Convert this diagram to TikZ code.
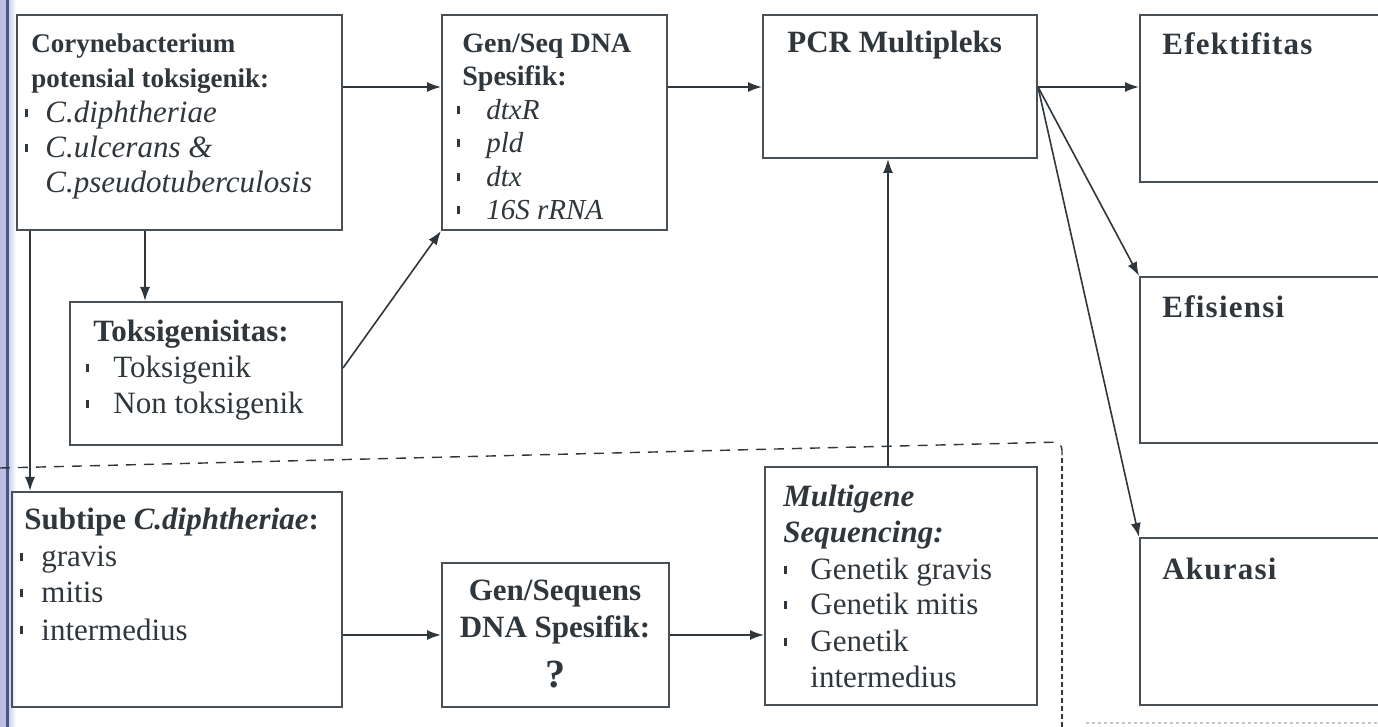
\documentclass[tikz,border=0pt]{standalone}
\usepackage{fontspec}
\setmainfont{Liberation Serif}
\usetikzlibrary{arrows.meta,fit,calc}
\definecolor{ink}{HTML}{30373C}
\definecolor{frame}{HTML}{4A5156}
\definecolor{edgeA}{HTML}{B9BEE2}
\definecolor{edgeB}{HTML}{4C5380}
\definecolor{edgeC}{HTML}{C6D4F0}
% small upright bar used as list bullet, followed by the indent to the item text
\newcommand\bul[1]{\makebox[#1][l]{\rule[3pt]{1.5pt}{3.8pt}}}
\begin{document}
\begin{tikzpicture}[x=0.5pt,y=-0.5pt,
  box/.style={draw=frame,line width=1pt,inner sep=0pt},
  arr/.style={draw=ink,line width=0.8pt,-{Latex[length=7pt,width=5pt]}},
  txt/.style={anchor=base west,inner sep=0pt,text=ink,font=\fontsize{15.5}{18}\selectfont},
  hd/.style={txt,font=\fontsize{15.5}{18}\selectfont\bfseries},
  hdsmall/.style={txt,font=\fontsize{13.5}{16}\selectfont\bfseries},
  hdmid/.style={txt,font=\fontsize{14}{16}\selectfont\bfseries},
  itmid/.style={txt,font=\fontsize{14.5}{16}\selectfont\itshape},
  ctr/.style={hd,anchor=base},
  wide/.style={hd,font=\fontsize{15.5}{18}\selectfont\bfseries\addfontfeature{LetterSpace=4}},
  dsh/.style={draw=ink,line width=0.7pt,dash pattern=on 5pt off 4pt},
  dotl/.style={draw=ink,line width=1.3pt,dash pattern=on 2.5pt off 1.5pt}]
\useasboundingbox (0,0) rectangle (1378,727);
\fill[white] (0,0) rectangle (1378,727);

% binding shadow along the left margin
\fill[edgeA] (0,0) rectangle (6,727);
\fill[edgeB] (6,0) rectangle (9,727);
\shade[left color=edgeC,right color=white] (9,0) rectangle (16,727);

% boxes
\node[box,fit={(17,15)(342,230)}] (coryne) {};
\node[box,fit={(442,15)(667,230)}] (genseq) {};
\node[box,fit={(763,15)(1037,158)}] (pcr) {};
\node[box,fit={(1140,15)(1392,182)}] (efek) {};
\node[box,fit={(1140,277)(1392,443)}] (efis) {};
\node[box,fit={(1140,538)(1392,705)}] (akur) {};
\node[box,fit={(70,302)(342,445)}] (toks) {};
\node[box,fit={(12,492)(342,707)}] (subtipe) {};
\node[box,fit={(442,563)(669,707)}] (genseqb) {};
\node[box,fit={(765,467)(1037,705)}] (multi) {};

% box texts
\node[hdsmall] (a1) at (31,53) {Corynebacterium};
\node[hdsmall] (a2) at (31,88) {potensial toksigenik:};
\node[txt] (a3) at (25,123) {\bul{10pt}\textit{C.diphtheriae}};
\node[txt] (a4) at (25,158) {\bul{10pt}\textit{C.ulcerans \&}};
\node[txt] (a5) at (45,193) {\textit{C.pseudotuberculosis}};

\node[hdmid] (b1) at (462,53) {Gen/Seq DNA};
\node[hdmid] (b2) at (462,86) {Spesifik:};
\node[itmid] (b3) at (457,120) {\bul{14.5pt}dtxR};
\node[itmid] (b4) at (457,153) {\bul{14.5pt}pld};
\node[itmid] (b5) at (457,187) {\bul{14.5pt}dtx};
\node[itmid] (b6) at (457,220) {\bul{14.5pt}16S rRNA};

\node[hd] (p1) at (787,53) {PCR Multipleks};

\node[wide] (e1) at (1162,55) {Efektifitas};
\node[wide] (e2) at (1162,318) {Efisiensi};
\node[wide] (e3) at (1162,580) {Akurasi};

\node[hd] (t1) at (93,342) {Toksigenisitas:};
\node[txt] (t2) at (86,378) {\bul{13.5pt}Toksigenik};
\node[txt] (t3) at (86,414) {\bul{13.5pt}Non toksigenik};

\node[hd] (s1) at (24,530) {Subtipe \textit{C.diphtheriae}:};
\node[txt] (s2) at (20,567) {\bul{10.5pt}gravis};
\node[txt] (s3) at (20,603) {\bul{10.5pt}mitis};
\node[txt] (s4) at (20,640) {\bul{10.5pt}intermedius};

\node[ctr] (g1) at (555,600) {Gen/Sequens};
\node[ctr] (g2) at (555,637) {DNA Spesifik:};
\node[ctr,font=\fontsize{20}{22}\selectfont\bfseries] (g3) at (555,687) {?};

\node[hd] (m1) at (783,507) {\textit{Multigene}};
\node[hd] (m2) at (783,543) {\textit{Sequencing:}};
\node[txt] (m3) at (784,580) {\bul{13pt}Genetik gravis};
\node[txt] (m4) at (784,615) {\bul{13pt}Genetik mitis};
\node[txt] (m5) at (784,652) {\bul{13pt}Genetik};
\node[txt] (m6) at (810,687) {intermedius};

% reference lines for connector heights and columns
\coordinate (r87) at (0,87);
\coordinate (r368) at (0,368);
\coordinate (r635) at (0,635);
\coordinate (c30) at (30,0);
\coordinate (c145) at (145,0);
\coordinate (c888) at (888,0);

% connectors
\draw[arr] (coryne.east |- r87) -- (genseq.west |- r87);
\draw[arr] (genseq.east |- r87) -- (pcr.west |- r87);
\draw[arr] (pcr.east |- r87) -- (efek.west |- r87);
\draw[arr] (pcr.east |- r87) -- (efis.north west);
\draw[arr] (pcr.east |- r87) -- (akur.north west);
\draw[arr] (coryne.south -| c145) -- (toks.north -| c145);
\draw[arr] (coryne.south -| c30) -- (subtipe.north -| c30);
\draw[arr] (toks.east |- r368) -- (genseq.south west);
\draw[arr] (subtipe.east |- r635) -- (genseqb.west |- r635);
\draw[arr] (genseqb.east |- r635) -- (multi.west |- r635);
\draw[arr] (multi.north -| c888) -- (pcr.south -| c888);

% dashed boundary of the lower part
\coordinate (d0) at (0,468);
\coordinate (dc) at (1062,442);
\coordinate (dv) at (1062,458);
\coordinate (d1) at (1062,727);
\draw[dsh,rounded corners=4pt] (d0) -- (dc) -- (dv);
\draw[dotl] (dv) -- (d1);
\draw[draw=gray!45,line width=1pt,dash pattern=on 1.5pt off 1.5pt] (1086,723) -- (1378,723);
\end{tikzpicture}
\end{document}
